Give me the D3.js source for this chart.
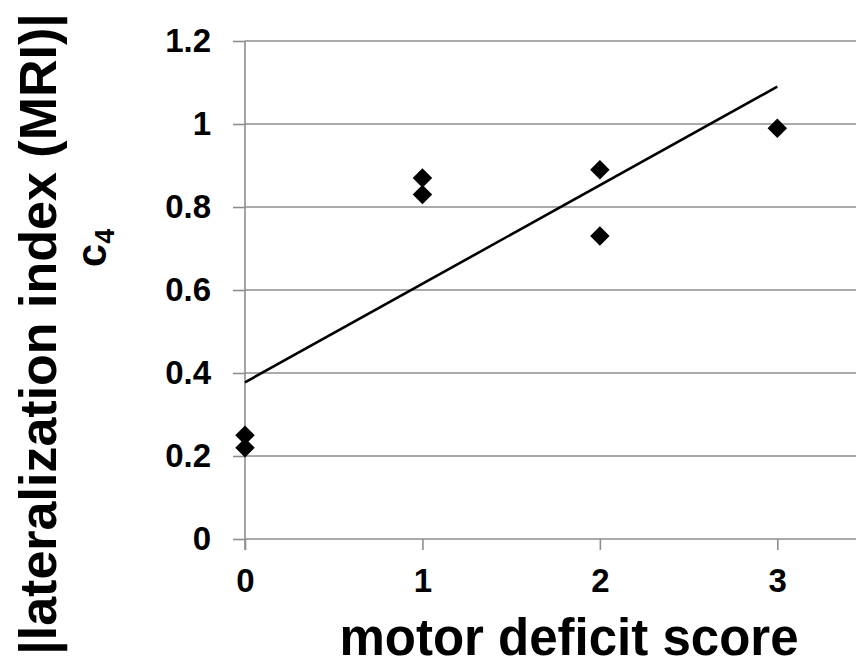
<!DOCTYPE html>
<html>
<head>
<meta charset="utf-8">
<script src="https://cdn.jsdelivr.net/npm/d3@7"></script>
<style>
  html, body { margin: 0; padding: 0; background: #fff; }
  svg { display: block; font-family: "Liberation Sans", Arial, sans-serif; font-weight: bold; }
</style>
</head>
<body>
<svg id="chart" width="856" height="667"></svg>
<script>
// Motor deficit score vs. |lateralization index| (c4 component)
const motorScore = [0, 0, 1, 1, 2, 2, 3];
const lateralization = [0.25, 0.22, 0.87, 0.83, 0.89, 0.73, 0.99];
const xTicks = [0, 1, 2, 3];
const yTicks = [0, 0.2, 0.4, 0.6, 0.8, 1, 1.2];
const xTitle = "motor deficit score";
const yTitle = "|lateralization index (MRI)|";

const svg = d3.select("#chart");
const W = 856, H = 667;

const x = d3.scaleLinear().domain([0, 3.5]).range([245, 866]);
const y = d3.scaleLinear().domain([0, 1.2]).range([539, 41]);

const gridColor = "#8e8e8e";
const tickFont = 33;

// horizontal gridlines
svg.append("g")
  .selectAll("line")
  .data(yTicks)
  .join("line")
  .attr("x1", x(0))
  .attr("x2", W)
  .attr("y1", d => y(d))
  .attr("y2", d => y(d))
  .attr("stroke", gridColor)
  .attr("stroke-width", 1.6);

// y axis
const yAxis = svg.append("g")
  .attr("transform", `translate(${x(0)},0)`)
  .call(d3.axisLeft(y).tickValues(yTicks).tickSize(12).tickPadding(22)
    .tickFormat(d => String(+d.toFixed(1))));
yAxis.select(".domain").remove();
yAxis.append("line")
  .attr("x1", 0).attr("x2", 0)
  .attr("y1", y(1.2)).attr("y2", y(0) + 11)
  .attr("stroke", gridColor).attr("stroke-width", 1.6);
yAxis.selectAll(".tick line").attr("stroke", gridColor).attr("stroke-width", 1.6);
yAxis.selectAll(".tick text")
  .attr("fill", "#000")
  .attr("font-size", tickFont)
  .attr("font-family", "Liberation Sans, Arial, sans-serif")
  .attr("font-weight", "bold");

// x axis
const xAxis = svg.append("g")
  .attr("transform", `translate(0,${y(0)})`)
  .call(d3.axisBottom(x).tickValues(xTicks).tickSize(11).tickPadding(19)
    .tickFormat(d3.format("d")));
xAxis.select(".domain").remove();
xAxis.selectAll(".tick line").attr("stroke", gridColor).attr("stroke-width", 1.6);
xAxis.selectAll(".tick text")
  .attr("fill", "#000")
  .attr("font-size", tickFont)
  .attr("font-family", "Liberation Sans, Arial, sans-serif")
  .attr("font-weight", "bold");

// least-squares trend line through the points
const n = motorScore.length;
const mx = d3.mean(motorScore), my = d3.mean(lateralization);
let sxy = 0, sxx = 0;
for (let i = 0; i < n; i++) {
  sxy += (motorScore[i] - mx) * (lateralization[i] - my);
  sxx += (motorScore[i] - mx) ** 2;
}
const slope = sxy / sxx;
const intercept = my - slope * mx;
const xExtent = d3.extent(motorScore);
svg.append("line")
  .attr("x1", x(xExtent[0])).attr("y1", y(intercept + slope * xExtent[0]))
  .attr("x2", x(xExtent[1])).attr("y2", y(intercept + slope * xExtent[1]))
  .attr("stroke", "#000")
  .attr("stroke-width", 2.6);

// diamond markers
const diamond = d3.symbol().type(d3.symbolSquare).size(190);
svg.append("g")
  .selectAll("path")
  .data(motorScore.map((m, i) => [m, lateralization[i]]))
  .join("path")
  .attr("d", diamond)
  .attr("transform", d => `translate(${x(d[0])},${y(d[1])}) rotate(45)`)
  .attr("fill", "#000");

// axis titles
svg.append("text")
  .attr("x", 569)
  .attr("y", 655)
  .attr("text-anchor", "middle")
  .attr("font-size", 51)
  .attr("fill", "#000")
  .text(xTitle);

svg.append("text")
  .attr("transform", "translate(56,334) rotate(-90)")
  .attr("text-anchor", "middle")
  .attr("font-size", 52)
  .attr("fill", "#000")
  .text(yTitle);

const c4 = svg.append("text")
  .attr("transform", "translate(106,248) rotate(-90)")
  .attr("text-anchor", "middle")
  .attr("font-size", 42)
  .attr("fill", "#000");
c4.append("tspan").text("c");
c4.append("tspan").attr("font-size", 27).attr("dy", 8).text("4");
</script>
</body>
</html>
